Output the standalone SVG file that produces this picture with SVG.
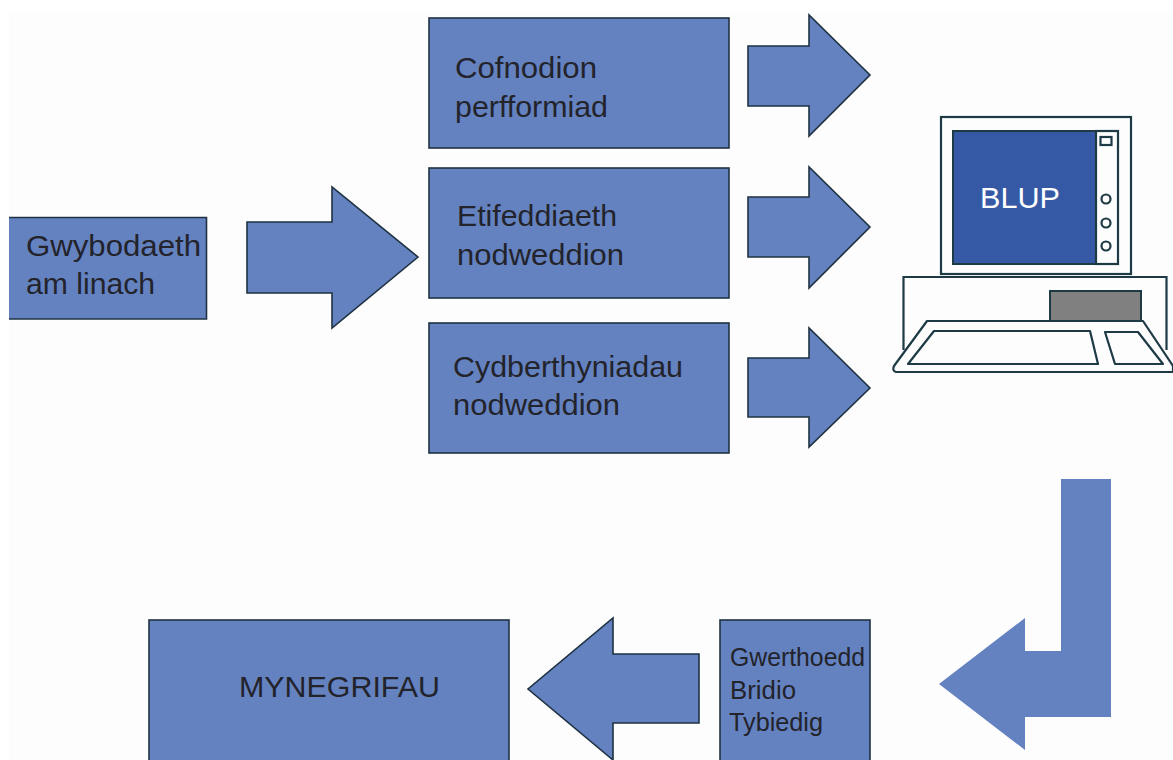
<svg xmlns="http://www.w3.org/2000/svg" width="1173" height="760" viewBox="0 0 1173 760">
<style>
.b{fill:#6482c0;stroke:#1f3242;stroke-width:1.6}
.t{font-family:"Liberation Sans",Arial,sans-serif;fill:#23232b;font-size:30px}
.s{font-size:25px}
.p{fill:#fdfdfe;stroke:#1d3a45;stroke-width:2.2}
.k{fill:none;stroke:#1d3a45;stroke-width:2.2;stroke-linejoin:round}
</style>
<rect width="1173" height="760" fill="#ffffff"/>
<rect x="9" y="14" width="1164" height="746" fill="#fdfdfe"/>
<g id="connectors">
<polygon class="b" points="247,222 332,222 332,187 418,257 332,328 332,293 247,293"/>
<polygon class="b" points="748,46 809,46 809,15 870,75 809,136 809,106 748,106"/>
<polygon class="b" points="748,197 809,197 809,167 870,227 809,288 809,257 748,257"/>
<polygon class="b" points="748,358 809,358 809,328 870,388 809,447 809,417 748,417"/>
<polygon class="b" points="699,654 613,654 613,618 528,689 613,760 613,723 699,723"/>
<polygon fill="#6482c0" points="1061,479 1111,479 1111,717 1025,717 1025,750 939,684 1025,618 1025,651 1061,651"/>
</g>
<g id="node-gwybodaeth">
<rect class="b" x="9" y="217.500" width="197.500" height="101.500" stroke-dasharray="496.500 101.500"/>
<text class="t" x="26" y="256" textLength="175" lengthAdjust="spacingAndGlyphs">Gwybodaeth</text>
<text class="t" x="26" y="294" textLength="129" lengthAdjust="spacingAndGlyphs">am linach</text>
</g>
<g id="node-cofnodion">
<rect class="b" x="429" y="18" width="300" height="130"/>
<text class="t" x="455" y="78" textLength="142" lengthAdjust="spacingAndGlyphs">Cofnodion</text>
<text class="t" x="455" y="117" textLength="153" lengthAdjust="spacingAndGlyphs">perfformiad</text>
</g>
<g id="node-etifeddiaeth">
<rect class="b" x="429" y="168" width="300" height="130"/>
<text class="t" x="457" y="226" textLength="160" lengthAdjust="spacingAndGlyphs">Etifeddiaeth</text>
<text class="t" x="457" y="265" textLength="167" lengthAdjust="spacingAndGlyphs">nodweddion</text>
</g>
<g id="node-cydberthyniadau">
<rect class="b" x="429" y="323" width="300" height="130"/>
<text class="t" x="453" y="377" textLength="230" lengthAdjust="spacingAndGlyphs">Cydberthyniadau</text>
<text class="t" x="453" y="415" textLength="167" lengthAdjust="spacingAndGlyphs">nodweddion</text>
</g>
<g id="node-blup">
<rect class="p" x="941" y="117" width="190" height="157"/>
<path class="p" d="M903.500,350 V277 H1166.500 V350"/>
<rect x="1050" y="291" width="91" height="30" fill="#808080" stroke="#1d3a45" stroke-width="2"/>
<path d="M927,321 L1143,321 L1173,366 L1173,372 L896,372 Q892,371 894,366 Z" fill="#fdfdfe" stroke="#1d3a45" stroke-width="2.200" stroke-linejoin="round"/>
<path class="k" d="M934,331 L1090,331 L1098,364 L908,364 Z"/>
<path class="k" d="M1105,332 L1138,332 L1163,364 L1115,364 Z"/>
<rect x="953" y="131" width="143" height="133" fill="#3659a6" stroke="#1d3a45" stroke-width="2"/>
<rect class="p" x="1096" y="131" width="22" height="133"/>
<rect class="p" x="1100.500" y="137" width="11" height="8"/>
<circle class="p" cx="1106" cy="199" r="4.500"/>
<circle class="p" cx="1106" cy="223" r="4.500"/>
<circle class="p" cx="1106" cy="246" r="4.500"/>
<text class="t" x="980" y="208" textLength="80" lengthAdjust="spacingAndGlyphs" fill="#ffffff" style="fill:#ffffff">BLUP</text>
</g>
<g id="node-gwerthoedd">
<rect class="b" x="720" y="620" width="150" height="145"/>
<text class="t s" x="730" y="666" textLength="135" lengthAdjust="spacingAndGlyphs">Gwerthoedd</text>
<text class="t s" x="730" y="699" textLength="66" lengthAdjust="spacingAndGlyphs">Bridio</text>
<text class="t s" x="729" y="731" textLength="94" lengthAdjust="spacingAndGlyphs">Tybiedig</text>
</g>
<g id="node-mynegrifau">
<rect class="b" x="149" y="620" width="360" height="145"/>
<text class="t" x="239" y="697" textLength="201" lengthAdjust="spacingAndGlyphs">MYNEGRIFAU</text>
</g>
</svg>
